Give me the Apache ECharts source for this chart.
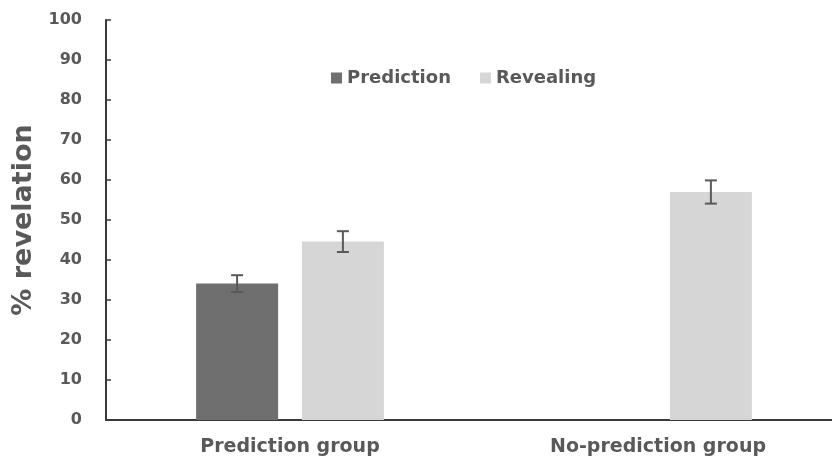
<!DOCTYPE html>
<html>
<head>
<meta charset="utf-8">
<script src="https://cdn.jsdelivr.net/npm/echarts@6/dist/echarts.min.js"></script>
<style>
  html, body { margin: 0; padding: 0; background: #fff; }
  #chart { width: 832px; height: 461px; }
</style>
</head>
<body>
<div id="chart"></div>
<script>
  // values
  var groups = ['Prediction group', 'No-prediction group'];
  var predictionVals = [34.1, null];
  var predictionErr = [2.1, null];
  var revealingVals = [44.6, 57.0];
  var revealingErr = [2.6, 2.9];
  var yTicks = [0, 10, 20, 30, 40, 50, 60, 70, 80, 90, 100];

  var barW = 82;
  var gapRatio = 0.29;
  var txt = '#595959';
  var font = '"DejaVu Sans", Verdana, sans-serif';

  function errorSeries(vals, errs, side) {
    var data = [];
    for (var i = 0; i < vals.length; i++) {
      if (vals[i] != null) data.push([i, vals[i] - errs[i], vals[i] + errs[i]]);
    }
    return {
      type: 'custom',
      silent: true,
      z: 10,
      data: data,
      renderItem: function (params, api) {
        var off = side * (barW + barW * gapRatio) / 2;
        var lo = api.coord([api.value(0), api.value(1)]);
        var hi = api.coord([api.value(0), api.value(2)]);
        var x = lo[0] + off;
        var cap = 6;
        var st = { stroke: '#595959', lineWidth: 2 };
        return {
          type: 'group',
          children: [
            { type: 'line', shape: { x1: x, y1: hi[1], x2: x, y2: lo[1] }, style: st },
            { type: 'line', shape: { x1: x - cap, y1: hi[1], x2: x + cap, y2: hi[1] }, style: st },
            { type: 'line', shape: { x1: x - cap, y1: lo[1], x2: x + cap, y2: lo[1] }, style: st }
          ]
        };
      }
    };
  }

  var chart = echarts.init(document.getElementById('chart'));
  chart.setOption({
    animation: false,
    textStyle: { fontFamily: font },
    legend: {
      top: 64,
      left: 326,
      itemWidth: 11,
      itemHeight: 11,
      itemGap: 29,
      icon: 'rect',
      textStyle: { color: txt, fontWeight: 'bold', fontSize: 18, fontFamily: font },
      data: ['Prediction', 'Revealing']
    },
    grid: { left: 106, top: 20, width: 736, height: 400, outerBoundsMode: 'none' },
    xAxis: {
      type: 'category',
      data: groups,
      axisLine: { lineStyle: { color: '#3a3a3a', width: 2 } },
      axisTick: { show: false },
      axisLabel: { color: txt, fontWeight: 'bold', fontSize: 19, margin: 18 }
    },
    yAxis: {
      type: 'value',
      min: 0,
      max: 100,
      interval: yTicks[1] - yTicks[0],
      name: '% revelation',
      nameLocation: 'middle',
      nameGap: 66,
      nameTextStyle: { color: txt, fontWeight: 'bold', fontSize: 27 },
      axisLine: { show: true, lineStyle: { color: '#3a3a3a', width: 2 } },
      axisTick: { show: true, inside: true, length: 5, lineStyle: { color: '#3a3a3a', width: 1.5 } },
      splitLine: { show: false },
      axisLabel: {
        color: txt, fontWeight: 'bold', fontSize: 16, margin: 24,
        formatter: function (v) { return yTicks.indexOf(v) >= 0 ? String(v) : ''; }
      }
    },
    series: [
      {
        name: 'Prediction',
        type: 'bar',
        barWidth: barW,
        barGap: (gapRatio * 100) + '%',
        itemStyle: { color: '#6f6f6f' },
        data: predictionVals
      },
      {
        name: 'Revealing',
        type: 'bar',
        barWidth: barW,
        itemStyle: { color: '#d6d6d6' },
        data: revealingVals
      },
      errorSeries(predictionVals, predictionErr, -1),
      errorSeries(revealingVals, revealingErr, 1)
    ]
  });
</script>
</body>
</html>
